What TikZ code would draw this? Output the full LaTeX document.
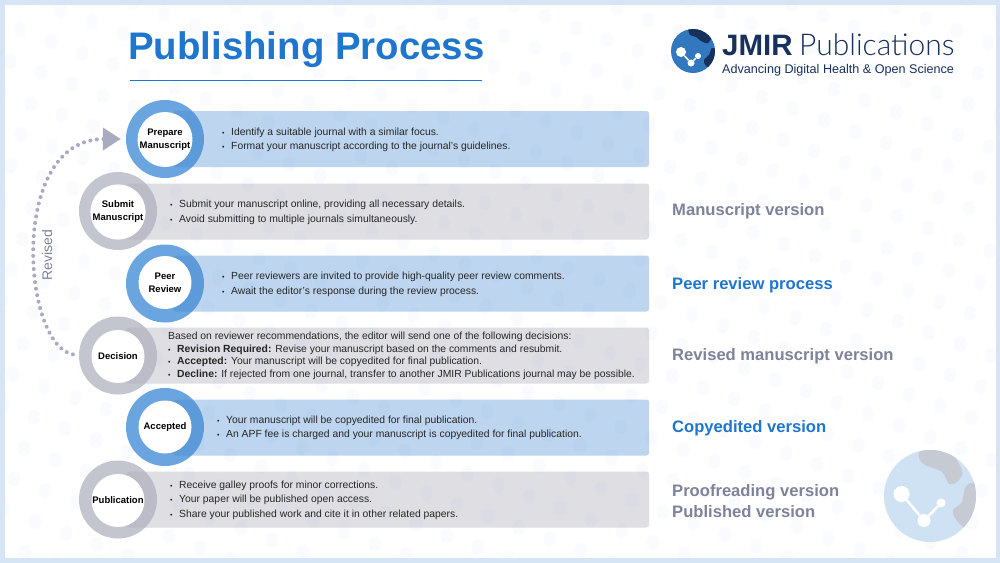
\documentclass[tikz,border=0pt]{standalone}
\usepackage{xcolor}
\usepackage{fontspec}
\setmainfont{Liberation Sans}
\newfontfamily\logolight{Lato Light}
\usetikzlibrary{arrows.meta}
\definecolor{frameblue}{HTML}{D5E5F6}
\definecolor{dotblue}{HTML}{F9FBFE}
\definecolor{titleblue}{HTML}{1F76CE}
\definecolor{ringblue}{HTML}{6AA5E0}
\definecolor{ringgray}{HTML}{C3C5CF}
\definecolor{barblue}{HTML}{4288D1}
\definecolor{bargray}{HTML}{AFAFBB}
\definecolor{versiongray}{HTML}{7F8399}
\definecolor{arcgray}{HTML}{A9ACC0}
\definecolor{logoblue}{HTML}{3178BE}
\definecolor{logodark}{HTML}{17305C}
\definecolor{globeblue}{HTML}{CFE2F3}
\definecolor{globegray}{HTML}{C6CAD3}
\newcommand{\bul}{\makebox[9pt][l]{\fontsize{7}{7}\selectfont •}}
\begin{document}
\begin{tikzpicture}[x=1pt,y=-1pt]
          \tikzstyle{every node}=[inner sep=0pt]
          \tikzstyle{ringB}=[circle, fill=ringblue, minimum size=78pt]
          \tikzstyle{ringG}=[circle, fill=ringgray, minimum size=78pt]
          \tikzstyle{barB}=[rectangle, rounded corners=3pt, anchor=west, fill=barblue, fill opacity=.35, minimum height=56pt, minimum width=476pt]
          \tikzstyle{barG}=[rectangle, rounded corners=3pt, anchor=west, fill=bargray, fill opacity=.4, minimum height=56pt, minimum width=523pt]
          \tikzstyle{hub}=[circle, fill=white, minimum size=53pt, align=center, font=\fontsize{9.5}{13}\selectfont\bfseries]
          \tikzstyle{bartext}=[anchor=west, align=left, text=black!85, font=\fontsize{10.35}{14.6}\selectfont]
          \tikzstyle{version}=[anchor=west, align=left, text=versiongray, font=\fontsize{16.6}{20.5}\selectfont\bfseries]
          \tikzstyle{versionB}=[version, text=titleblue]
          \tikzstyle{molecule}=[circle, fill=white]
          \useasboundingbox (0,0) rectangle (1000,562);
          \fill[white] (0,0) rectangle (1000,562);
          \begin{scope}
            \clip (0,0) rectangle (1000,562);
            \foreach \i in {-6,...,36}
              \foreach \j in {-12,...,18}
                \fill[dotblue] ({20+31*\i-10*\j},{30+11.5*\i+31*\j}) ellipse (6.5 and 7.5);
          \end{scope}
          \draw[frameblue, line width=9pt] (0,0) rectangle (1000,562);

          \node (title)[anchor=west, text=titleblue, font=\fontsize{38.4}{38.4}\selectfont\bfseries] at (128,50) {Publishing Process};
          \coordinate (ruleL) at (130,80.5);
          \coordinate (ruleR) at (482,80.5);
          \draw[titleblue, line width=1.2pt] (ruleL) -- (ruleR);

          \node (logoGlobe)[circle, fill=logoblue, minimum size=44pt] at (693,51) {};
          \begin{scope}
            \clip (693,51) circle (22);
            \fill[logodark] plot[smooth cycle] coordinates {(689,29) (700,27) (712,34) (708,43) (701,41) (696,37) (690,35)};
            \fill[logodark] plot[smooth cycle] coordinates {(712,48) (718,52) (716,68) (706,66) (704,60) (709,55)};
          \end{scope}
          \node (logoA)[molecule, minimum size=10pt] at (681,52) {};
          \node (logoB)[molecule, minimum size=7pt] at (691,63) {};
          \node (logoC)[molecule, minimum size=6pt] at (698,56) {};
          \draw[white, line width=1.5pt] (logoA) -- (logoB) -- (logoC);
          \node (logoJmir)[anchor=base west, text=logodark, font=\fontsize{29.5}{30}\selectfont\bfseries] at (722,55) {JMIR};
          \node (logoPub)[anchor=base west, text=logodark, font=\fontsize{30}{30}\selectfont\logolight] at (799,55) {Publications};
          \node (logoSub)[anchor=base west, text=logodark, font=\fontsize{12.6}{14}\selectfont] at (722,73) {Advancing Digital Health \& Open Science};

          \node (prepareRing)[ringB] at (165,139) {};
          \node (prepareBar)[barB] at (173,139) {};
          \node (prepare)[hub] at (165,139.5) {Prepare\\Manuscript};
          \node (prepareText)[bartext] at (222,140) {\bul Identify a suitable journal with a similar focus.\\\bul Format your manuscript according to the journal's guidelines.};

          \node (submitRing)[ringG] at (118,211) {};
          \node (submitBar)[barG] at (126,211.5) {};
          \node (submit)[hub] at (118,212) {Submit\\Manuscript};
          \node (submitText)[bartext] at (170,212.5) {\bul Submit your manuscript online, providing all necessary details.\\\bul Avoid submitting to multiple journals simultaneously.};

          \node (peerRing)[ringB] at (165,283.5) {};
          \node (peerBar)[barB] at (173,283.5) {};
          \node (peer)[hub] at (165,282.5) {Peer\\Review};
          \node (peerText)[bartext] at (222,284.5) {\bul Peer reviewers are invited to provide high-quality peer review comments.\\\bul Await the editor's response during the review process.};

          \node (decisionRing)[ringG] at (118,355.5) {};
          \node (decisionBar)[barG] at (126,355.5) {};
          \node (decision)[hub] at (118,356.5) {Decision};
          \node (decisionText)[bartext, font=\fontsize{10.35}{12.6}\selectfont] at (168,356) {Based on reviewer recommendations, the editor will send one of the following decisions:\\\bul\textbf{Revision Required:} Revise your manuscript based on the comments and resubmit.\\\bul\textbf{Accepted:} Your manuscript will be copyedited for final publication.\\\bul\textbf{Decline:} If rejected from one journal, transfer to another JMIR Publications journal may be possible.};

          \node (acceptedRing)[ringB] at (165,427) {};
          \node (acceptedBar)[barB] at (173,427.5) {};
          \node (accepted)[hub] at (165,427) {Accepted};
          \node (acceptedText)[bartext] at (217,428) {\bul Your manuscript will be copyedited for final publication.\\\bul An APF fee is charged and your manuscript is copyedited for final publication.};

          \node (publicationRing)[ringG] at (118,499.5) {};
          \node (publicationBar)[barG] at (126,499.5) {};
          \node (publication)[hub] at (118,500.5) {Publication};
          \node (publicationText)[bartext] at (170,500) {\bul Receive galley proofs for minor corrections.\\\bul Your paper will be published open access.\\\bul Share your published work and cite it in other related papers.};

          \draw[arcgray, line width=4pt, line cap=round, dash pattern=on 0pt off 6.6pt, shorten <=6pt, shorten >=5pt, -{Triangle[length=18pt, width=22pt]}]
            (decisionRing.west) .. controls (22,345) and (8,139) .. (prepareRing.west);
          \node (revised)[rotate=90, text=versiongray, font=\fontsize{14}{14}\selectfont] at (47,255) {Revised};

          \node (versionA)[version] at (672,211) {Manuscript version};
          \node (versionB)[versionB] at (672,285) {Peer review process};
          \node (versionC)[version] at (672,356) {Revised manuscript version};
          \node (versionD)[versionB] at (672,428) {Copyedited version};
          \node (versionE)[version] at (672,501) {Proofreading version\\Published version};

          \node (globe)[circle, fill=globeblue, minimum size=92pt] at (930,496) {};
          \begin{scope}
            \clip (930,496) circle (46);
            \fill[globegray] plot[smooth cycle] coordinates {(922,448) (945,445) (962,470) (958,481) (949,484) (942,472) (925,465) (919,458)};
            \fill[globegray] plot[smooth cycle] coordinates {(966,486) (980,484) (980,525) (965,528) (955,518) (953,510) (962,502)};
          \end{scope}
          \node (globeA)[molecule, minimum size=16pt] at (901.5,494) {};
          \node (globeB)[molecule, minimum size=13pt] at (924,520.5) {};
          \node (globeC)[molecule, minimum size=9pt] at (941,503) {};
          \draw[white, line width=2.5pt] (globeA) -- (globeB) -- (globeC);
        \end{tikzpicture}
\end{document}
